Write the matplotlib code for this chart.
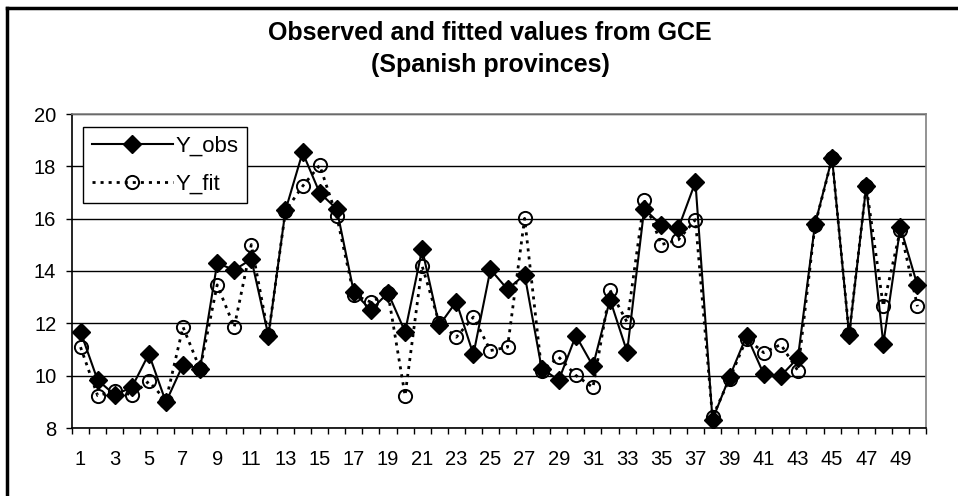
import matplotlib
matplotlib.use("Agg")
import matplotlib.pyplot as plt
from matplotlib.lines import Line2D
import numpy as np

plt.rcParams["font.family"] = ["Liberation Sans", "DejaVu Sans"]
plt.rcParams["lines.scale_dashes"] = False

# province index 1..50
provinces = list(range(1, 51))
y_obs = [11.68, 9.83, 9.27, 9.55, 10.83, 8.99, 10.42, 10.27, 14.30, 14.04,
         14.45, 11.53, 16.32, 18.53, 16.99, 16.37, 13.19, 12.50, 13.17, 11.68,
         14.83, 11.92, 12.83, 10.81, 14.06, 13.30, 13.86, 10.27, 9.83, 11.53,
         10.37, 12.91, 10.91, 16.37, 15.76, 15.63, 17.40, 8.32, 9.96, 11.53,
         10.06, 9.99, 10.68, 15.78, 18.32, 11.55, 17.24, 11.22, 15.68, 13.45]
y_fit = [11.09, 9.24, 9.40, 9.27, 9.78, 9.05, 11.86, 10.25, 13.47, 11.86,
         15.01, 11.55, 16.30, 17.24, 18.04, 16.09, 13.09, 12.81, 13.15, 9.24,
         14.19, 12.02, 11.47, 12.24, 10.96, 11.09, 16.01, 10.19, 10.71, 10.01,
         9.55, 13.27, 12.04, 16.73, 15.01, 15.19, 15.96, 8.42, 9.88, 11.42,
         10.88, 11.19, 10.19, 15.75, 18.30, 11.60, 17.25, 12.65, 15.58, 12.65]

fig = plt.figure(figsize=(9.58, 4.96), dpi=100)
ax = fig.add_axes([72 / 958, 1 - 428 / 496, (926 - 72) / 958, (428 - 114) / 496])

ax.plot(provinces, y_obs, color="black", lw=1.5, marker="D", ms=9,
        mfc="black", mec="black", label="Y_obs", zorder=3)
ax.plot(provinces, y_fit, color="black", lw=2.0, dashes=(2.2, 3.6),
        marker="o", ms=9.5, mfc="none", mec="black", mew=1.4,
        label="Y_fit", zorder=4)

ax.set_xlim(0.5, 50.5)
ax.set_ylim(8, 20)
ax.set_yticks(np.arange(8, 21, 2))
ax.yaxis.grid(True, color="black", lw=1.0)
ax.set_axisbelow(True)

# category boundaries carry the tick marks, odd categories carry the labels
ax.set_xticks(np.arange(0.5, 51, 1))
ax.set_xticklabels([])
ax.set_xticks(provinces[::2], minor=True)
ax.set_xticklabels([str(p) for p in provinces[::2]], minor=True)
ax.tick_params(axis="x", which="major", length=4.3, width=1, direction="out")
ax.tick_params(axis="x", which="minor", length=0, pad=16, labelsize=14.5)
ax.tick_params(axis="y", length=4.3, width=1, direction="out", pad=7, labelsize=14.5)

for side in ("top", "right"):
    ax.spines[side].set_color("#808080")
    ax.spines[side].set_linewidth(1.2)
for side in ("left", "bottom"):
    ax.spines[side].set_color("black")
    ax.spines[side].set_linewidth(1.2)

leg = ax.legend(loc="upper left", bbox_to_anchor=(83 / 958, 1 - 127 / 496),
                bbox_transform=fig.transFigure, fontsize=16, frameon=True,
                fancybox=False, framealpha=1, edgecolor="black",
                handlelength=3.65, handletextpad=0.1, borderpad=0.4,
                labelspacing=0.75, borderaxespad=0)
leg.get_frame().set_linewidth(1.0)

fig.text(490 / 958, 1 - 49 / 496,
         "Observed and fitted values from GCE\n(Spanish provinces)",
         ha="center", va="center", fontsize=18, fontweight="bold",
         linespacing=1.42)

# outer chart frame (cropped at right and bottom)
fig.add_artist(Line2D([7 / 958, 7 / 958], [0, 1 - 8 / 496],
                      transform=fig.transFigure, color="black", lw=2.5))
fig.add_artist(Line2D([7 / 958, 1], [1 - 8 / 496, 1 - 8 / 496],
                      transform=fig.transFigure, color="black", lw=2.5))

fig.savefig("out.png", dpi=100)
